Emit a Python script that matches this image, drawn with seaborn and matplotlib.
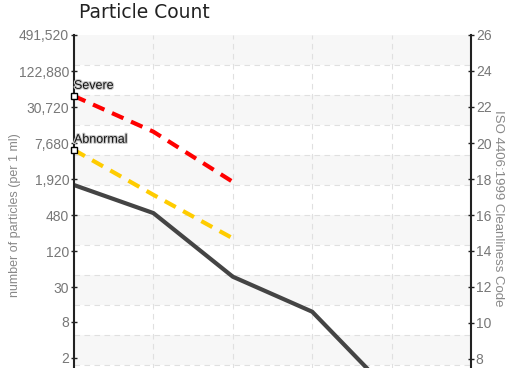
import matplotlib
matplotlib.use("Agg")
import matplotlib.pyplot as plt
import matplotlib.ticker as mticker
import matplotlib.patheffects as pe
import numpy as np
import pandas as pd
import seaborn as sns

sns.set_style("white")
plt.rcParams["font.family"] = ["DejaVu Sans"]

# particle size channels (x positions) and counts per 1 ml
size_idx = [0, 1, 2, 3, 4]
measured = [1530, 520, 45, 11.7, 0.5]
severe_idx = [0, 1, 2]
severe = [47000, 11900, 1730]
abnormal_idx = [0, 1, 2]
abnormal = [5900, 1050, 197]

count_ticks = [2, 8, 30, 120, 480, 1920, 7680, 30720, 122880, 491520]
iso_ticks = [8, 10, 12, 14, 16, 18, 20, 22, 24, 26]

narrow = ["Liberation Sans", "DejaVu Sans"]
tick_color = "#777777"

fig = plt.figure(figsize=(5.19, 3.68), dpi=100)
rect = [74 / 519, -27 / 368, 397 / 519, 360 / 368]

# background bands + dashed grid
bg = fig.add_axes(rect, zorder=0)
bg.set_xlim(0, 5)
bg.set_ylim(0, 12)
for k in range(1, 12, 2):
    bg.axhspan(k, k + 1, color="#f7f7f7", lw=0)
for k in range(1, 12):
    bg.axhline(k, color="#e0e0e0", lw=0.8, ls=(0, (5, 4)))
for k in range(1, 5):
    bg.axvline(k, color="#e0e0e0", lw=0.8, ls=(0, (5, 4)))
bg.axis("off")

ax = fig.add_axes(rect, zorder=2)
ax.patch.set_alpha(0)
df_m = pd.DataFrame({"x": size_idx, "y": measured})
df_s = pd.DataFrame({"x": severe_idx, "y": severe})
df_a = pd.DataFrame({"x": abnormal_idx, "y": abnormal})
sns.lineplot(data=df_m, x="x", y="y", ax=ax, color="#444444", lw=3)
sns.lineplot(data=df_s, x="x", y="y", ax=ax, color="#ff0000", lw=3, ls=(0, (3, 2)))
sns.lineplot(data=df_a, x="x", y="y", ax=ax, color="#ffcc00", lw=3, ls=(0, (3, 2)))
for lbl, vals in [("Severe", severe), ("Abnormal", abnormal)]:
    ax.plot(0, vals[0], marker="s", ms=5, mfc="white", mec="black", mew=1,
            clip_on=False, zorder=5)
    ax.annotate(lbl, (0, vals[0]), xytext=(0, 3), textcoords="offset points",
                fontsize=9, color="#111111", family=narrow,
                ha="left", va="bottom",
                path_effects=[pe.withStroke(linewidth=1.6, foreground="#cccccc")])

ax.set_yscale("log", base=2)
ax.set_xlim(0, 5)
ax.set_ylim(0.475, 491520)
ax.yaxis.set_major_locator(mticker.FixedLocator(count_ticks))
ax.yaxis.set_minor_locator(mticker.NullLocator())
ax.yaxis.set_major_formatter(mticker.FuncFormatter(lambda v, p: f"{v:,.0f}"))
ax.set_xticks([])
ax.set_xlabel("")
ax.set_ylabel("number of particles (per 1 ml)", color="#888888", fontsize=9,
              family=narrow)
ax.yaxis.set_label_coords(-53 / 397, 0.5)
for s in ["top", "bottom", "right"]:
    ax.spines[s].set_visible(False)
ax.spines["left"].set_color("#222222")
ax.spines["left"].set_linewidth(1.5)
ax.tick_params(axis="y", direction="inout", length=5, width=1,
               color="#222222", labelcolor=tick_color, labelsize=10, pad=1)
for t in ax.get_yticklabels():
    t.set_family(narrow)

ax2 = ax.twinx()
ax2.set_ylim(6, 26)
ax2.set_yticks(iso_ticks)
for s in ["top", "bottom", "left"]:
    ax2.spines[s].set_visible(False)
ax2.spines["right"].set_color("#222222")
ax2.spines["right"].set_linewidth(1.5)
ax2.tick_params(axis="y", direction="inout", length=5, width=1,
                color="#222222", labelcolor=tick_color, labelsize=10, pad=1)
for t in ax2.get_yticklabels():
    t.set_family(narrow)
ax2.set_ylabel("ISO 4406:1999 Cleanliness Code", color="#888888", fontsize=9.5,
               family=narrow, rotation=270, va="center")
ax2.yaxis.set_label_coords(1 + 27 / 397, 0.52)

fig.text(79 / 519, 1 - 13 / 368, "Particle Count", fontsize=13.5,
         color="#222222", ha="left", va="center")

fig.savefig("out.png", dpi=100)
